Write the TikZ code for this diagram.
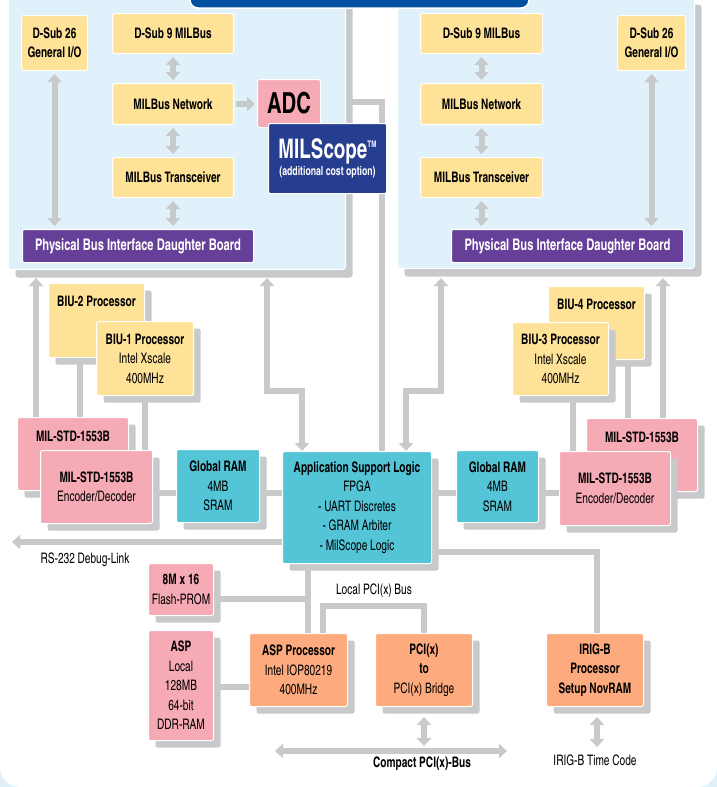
\documentclass[tikz,border=0pt]{standalone}
\usepackage{fontspec}
\setmainfont{texgyreheroscn-regular.otf}[BoldFont=texgyreheroscn-bold.otf, FakeStretch=0.85]
\usepackage{tikz}
\usetikzlibrary{arrows.meta}
\usetikzlibrary{shadows}

\definecolor{panelbg}{RGB}{224,241,251}
\definecolor{wiregray}{RGB}{200,201,203}
\definecolor{yellowbox}{RGB}{254,226,152}
\definecolor{pinkbox}{RGB}{246,170,181}
\definecolor{cyanbox}{RGB}{84,196,215}
\definecolor{orangebox}{RGB}{253,170,126}
\definecolor{purplebox}{RGB}{102,64,152}
\definecolor{navybox}{RGB}{38,62,143}
\definecolor{titleblue}{RGB}{0,80,162}

\pgfdeclarelayer{back}
\pgfdeclarelayer{wires}
\pgfsetlayers{back,wires,main}

\begin{document}
\begin{tikzpicture}[x=1pt, y=-1pt,
  >={Triangle[width=14pt,length=8pt]},
  wire/.style={draw=wiregray, line width=6pt},
  wh/.style 2 args={minimum width=#1pt, minimum height=#2pt},
  box/.style={draw=white, line width=1pt, rounded corners=2pt, anchor=north west,
    align=center, inner sep=0pt, font=\fontsize{14.5}{19.5}\selectfont},
  shbox/.style={box, drop shadow={shadow xshift=7pt, shadow yshift=-7pt,
    fill=wiregray, opacity=1}},
  panel/.style={fill=panelbg, draw=white, line width=1pt, rounded corners=3pt,
    anchor=north west, inner sep=0pt, drop shadow={shadow xshift=7pt,
    shadow yshift=-8pt, fill=wiregray, opacity=1}},
  topline/.style={label={[anchor=north, yshift=-10pt,
    font=\fontsize{14.5}{19.5}\selectfont\bfseries]north:#1}},
  lbl/.style={font=\fontsize{14.5}{16}\selectfont}]
  \useasboundingbox (0,0) rectangle (717,787);
  \begin{pgfonlayer}{back}
    \fill[panelbg] (0,0) rectangle (717,787);
    \fill[white, rounded corners=20pt] (0,-40) rectangle (717,787);
  \end{pgfonlayer}
  % ---------- left board ----------
  \node[panel, wh={337}{273}] (lpanel) at (8,-4) {};
  \node[box, fill=yellowbox, wh={66}{55}] (d26l) at (21,15)
    {\textbf{D-Sub 26}\\\textbf{General I/O}};
  \node[box, fill=yellowbox, wh={121}{40}] (d9l) at (112,13) {\textbf{D-Sub 9 MILBus}};
  \node[box, fill=yellowbox, wh={121}{41}] (netl) at (112,83) {\textbf{MILBus Network}};
  \node[box, fill=yellowbox, wh={121}{40}] (trl) at (112,157) {\textbf{MILBus Transceiver}};
  \node[box, fill=purplebox, text=white, wh={231}{33}, font=\fontsize{16}{18}\selectfont]
    (physl) at (22,229) {\textbf{Physical Bus Interface Daughter Board}};
  \draw[wire, <->, shorten <=3pt, shorten >=3pt] (d9l) -- (netl);
  \draw[wire, <->, shorten <=3pt, shorten >=3pt] (netl) -- (trl);
  \draw[wire, <->, shorten <=3pt, shorten >=3pt] (trl.south) -- (trl.south |- physl.north);
  \draw[wire, <->, shorten <=3pt, shorten >=3pt] (d26l.south) -- (d26l.south |- physl.north);
  % ---------- right board ----------
  \node[panel, wh={297}{272}] (rpanel) at (397,-4) {};
  \node[box, fill=yellowbox, wh={122}{40}] (d9r) at (420,13) {\textbf{D-Sub 9 MILBus}};
  \node[box, fill=yellowbox, wh={122}{41}] (netr) at (420,83) {\textbf{MILBus Network}};
  \node[box, fill=yellowbox, wh={122}{40}] (trr) at (420,157) {\textbf{MILBus Transceiver}};
  \node[box, fill=yellowbox, wh={68}{55}] (d26r) at (617,15)
    {\textbf{D-Sub 26}\\\textbf{General I/O}};
  \node[box, fill=purplebox, text=white, wh={232}{33}, font=\fontsize{16}{18}\selectfont]
    (physr) at (451,229) {\textbf{Physical Bus Interface Daughter Board}};
  \draw[wire, <->, shorten <=3pt, shorten >=3pt] (d9r) -- (netr);
  \draw[wire, <->, shorten <=3pt, shorten >=3pt] (netr) -- (trr);
  \draw[wire, <->, shorten <=3pt, shorten >=3pt] (trr.south) -- (trr.south |- physr.north);
  \draw[wire, <->, shorten <=3pt, shorten >=3pt] (d26r.south) -- (d26r.south |- physr.north);
  % title tab
  \fill[titleblue, draw=white, line width=1.5pt, rounded corners=8pt]
    (190,-20) rectangle (529,8);
  % ---------- ADC / MILScope ----------
  \node[box, fill=pinkbox, wh={63}{48}, font=\fontsize{29}{30}\selectfont\bfseries]
    (adc) at (257,79) {ADC};
  \draw[wire, ->, shorten <=2pt, shorten >=2pt] (netl.east) -- (netl.east -| adc.west);
  \node[box, fill=navybox, text=white, wh={118}{70}] (milscope) at (268,123)
    {{\fontsize{27}{28}\selectfont\bfseries MILScope\raisebox{11pt}{\fontsize{9}{9}\selectfont TM}}\\[-3pt]
     {\fontsize{12.5}{14}\selectfont\bfseries (additional cost option)}};
  % ---------- processing boards ----------
  \node[shbox, fill=yellowbox, wh={96}{74}, topline={BIU-2 Processor}] (biu2) at (48,283) {};
  \node[shbox, fill=yellowbox, wh={97}{74}] (biu1) at (96,321)
    {\textbf{BIU-1 Processor}\\Intel Xscale\\400MHz};
  \node[shbox, fill=pinkbox, wh={111}{73}, topline={MIL-STD-1553B}] (milbl) at (17,417) {};
  \node[shbox, fill=pinkbox, wh={112}{73}] (milfl) at (40,450)
    {\textbf{MIL-STD-1553B}\\Encoder/Decoder};
  \node[shbox, fill=cyanbox, wh={83}{73}] (graml) at (176,449)
    {\textbf{Global RAM}\\4MB\\SRAM};
  \node[shbox, fill=cyanbox, wh={149}{112}] (asl) at (282,451)
    {\textbf{Application Support Logic}\\FPGA\\- UART Discretes\\- GRAM Arbiter\\- MilScope Logic};
  \node[shbox, fill=cyanbox, wh={82}{72}] (gramr) at (456,450)
    {\textbf{Global RAM}\\4MB\\SRAM};
  \node[shbox, fill=yellowbox, wh={96}{73}, topline={BIU-4 Processor}] (biu4) at (548,286) {};
  \node[shbox, fill=yellowbox, wh={96}{73}] (biu3) at (512,322)
    {\textbf{BIU-3 Processor}\\Intel Xscale\\400MHz};
  \node[shbox, fill=pinkbox, wh={111}{73}, topline={MIL-STD-1553B}] (milbr) at (586,418) {};
  \node[shbox, fill=pinkbox, wh={111}{74}] (milfr) at (559,451)
    {\textbf{MIL-STD-1553B}\\Encoder/Decoder};
  % ---------- ASP side ----------
  \node[shbox, fill=pinkbox, wh={65}{52}] (flash) at (148,563)
    {\textbf{8M x 16}\\Flash-PROM};
  \node[shbox, fill=pinkbox, wh={65}{110}] (ddr) at (148,630)
    {\textbf{ASP}\\Local\\128MB\\64-bit\\DDR-RAM};
  \node[shbox, fill=orangebox, wh={98}{73}] (asp) at (249,633)
    {\textbf{ASP Processor}\\Intel IOP80219\\400MHz};
  \node[shbox, fill=orangebox, wh={97}{73}] (bridge) at (375,633)
    {\textbf{PCI(x)}\\\textbf{to}\\PCI(x) Bridge};
  \node[shbox, fill=orangebox, wh={97}{73}] (irig) at (546,633)
    {\textbf{IRIG-B}\\\textbf{Processor}\\\textbf{Setup NovRAM}};
  \node[lbl] (rs232) at (85,560) {RS-232 Debug-Link};
  \node[lbl] (localpci) at (374,591) {Local PCI(x) Bus};
  \node[lbl, font=\fontsize{14.5}{16}\selectfont\bfseries] (cpci) at (422,764) {Compact PCI(x)-Bus};
  \node[lbl] (irigtc) at (595,760) {IRIG-B Time Code};
  % ---------- wires ----------
  \coordinate (lpin) at (267,278);
  \coordinate (lbend) at (267,391);
  \coordinate (rpin) at (441,278);
  \coordinate (rbend) at (441,391);
  \coordinate (scopelvl) at (0,102);
  \coordinate (ramlvl) at (0,493);
  \coordinate (rsend) at (12,542);
  \coordinate (iriglvl) at (0,552);
  \coordinate (flashlvl) at (0,599);
  \coordinate (pcilvl) at (0,606);
  \coordinate (ddrlvl) at (0,687);
  \coordinate (cpl) at (275,751);
  \coordinate (cpr) at (507,751);
  \begin{pgfonlayer}{wires}
    \draw[wire] (lpanel.east |- scopelvl) -| ([xshift=100pt]asl.north west);
    \draw[wire, <->] ([xshift=20pt]asl.north west) |- (lbend) -- (lpin);
    \draw[wire, <->] ([xshift=124pt]asl.north west) |- (rbend) -- (rpin);
    \draw[wire, ->] ([xshift=19pt]milbl.north west) -- ([xshift=19pt]milbl.north west |- lpin);
    \draw[wire] ([xshift=32pt]biu2.south west) -- ([xshift=32pt]biu2.south west |- milbl.north);
    \draw[wire] (biu1.south) -- (biu1.south |- milfl.north);
    \draw[wire] (milfl.east |- ramlvl) -- (graml.west |- ramlvl);
    \draw[wire] (graml.east |- ramlvl) -- (asl.west |- ramlvl);
    \draw[wire, ->] (asl.west |- rsend) -- (rsend);
    \draw[wire] (asl.east |- ramlvl) -- (gramr.west |- ramlvl);
    \draw[wire] (gramr.east |- ramlvl) -- (milfr.west |- ramlvl);
    \draw[wire] ([xshift=61pt]biu3.south west) -- ([xshift=61pt]biu3.south west |- milfr.north);
    \draw[wire] ([xshift=80pt]biu4.south west) -- ([xshift=80pt]biu4.south west |- milbr.north);
    \draw[wire, ->] ([xshift=77pt]milbr.north west) -- ([xshift=77pt]milbr.north west |- rpin);
    \draw[wire] (asl.east |- iriglvl) -| ([xshift=2pt]irig.north);
    \draw[wire] ([xshift=26pt]asl.south west) -- ([xshift=26pt]asl.south west |- asp.north);
    \draw[wire] (flash.east |- flashlvl) -- ([xshift=26pt]asl.south west |- flashlvl);
    \draw[wire] ([xshift=74pt]asp.north west) |- (bridge.north |- pcilvl) -- (bridge.north);
    \draw[wire] (ddr.east |- ddrlvl) -- (asp.west |- ddrlvl);
    \draw[wire, <->] (cpl) -- (cpr);
    \draw[wire, <->, shorten <=10pt, shorten >=5pt] (bridge.south) -- (bridge.south |- cpl);
    \draw[wire, <->, shorten <=10pt, shorten >=4pt] ([xshift=2pt]irig.south) -- ([xshift=2pt]irig.south |- irigtc.north);
  \end{pgfonlayer}
\end{tikzpicture}
\end{document}
